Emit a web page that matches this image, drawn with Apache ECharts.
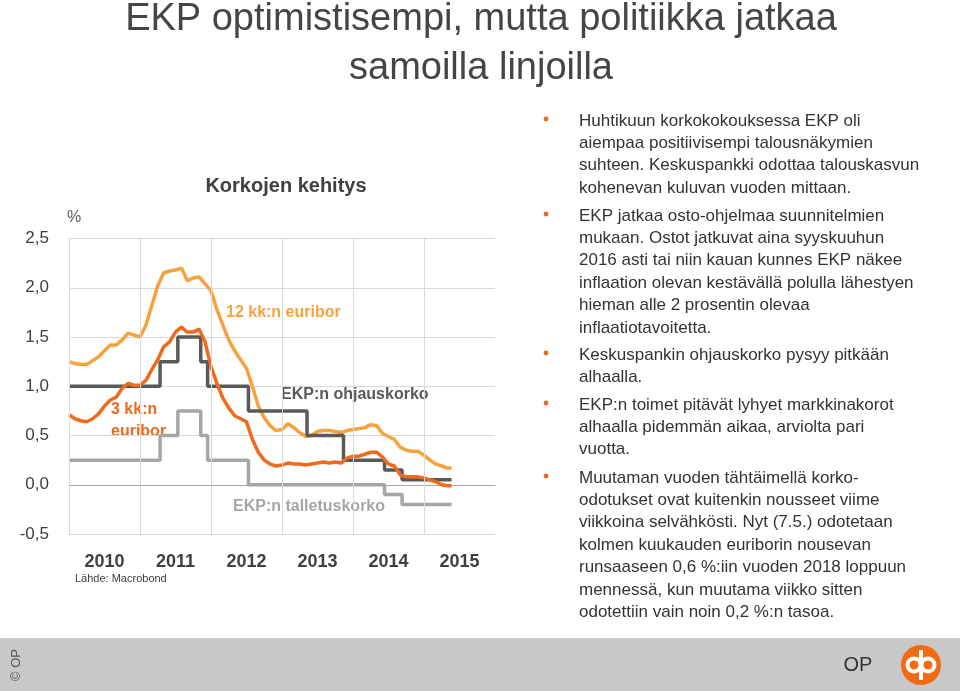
<!DOCTYPE html>
<html>
<head>
<meta charset="utf-8">
<title>EKP optimistisempi</title>
<script src="https://cdn.jsdelivr.net/npm/echarts@6/dist/echarts.min.js"></script>
<style>
  html, body { margin: 0; padding: 0; background: #fff; }
  #slide { width: 960px; height: 691px; }
</style>
</head>
<body>
<div id="slide"></div>
<script>
const FONT = '"Liberation Sans", Arial, sans-serif'

// vuodet x-akselilla
const yearLabels = ['2010', '2011', '2012', '2013', '2014', '2015']
const yearLines = [2010, 2011, 2012, 2013, 2014, 2015]

// euriborit kuukauden alusta, viimeinen piste = datan loppu
const euriborDates = [] // 2010-01 ... 2015-05 + loppupäivä
for (let i = 0; i < 65; i++) {
  const y = 2010 + Math.floor(i / 12)
  const m = (i % 12) + 1
  euriborDates.push(y + '-' + (m < 10 ? '0' + m : m) + '-01')
}
euriborDates.push('2015-05-21')

const euribor3m = [
  0.71, 0.67, 0.65, 0.64, 0.67, 0.72, 0.80, 0.86, 0.89, 0.98, 1.03, 1.01,
  1.01, 1.06, 1.17, 1.27, 1.40, 1.45, 1.55, 1.60, 1.55, 1.55, 1.58, 1.45,
  1.20, 1.03, 0.88, 0.78, 0.70, 0.67, 0.64, 0.46, 0.33, 0.25, 0.21, 0.19,
  0.20, 0.22, 0.21, 0.21, 0.20, 0.21, 0.22, 0.23, 0.22, 0.23, 0.22, 0.27,
  0.29, 0.29, 0.31, 0.33, 0.33, 0.28, 0.21, 0.19, 0.10, 0.08, 0.08, 0.08,
  0.07, 0.05, 0.03, 0.00, -0.01, -0.01
]

const euribor12m = [
  1.25, 1.23, 1.22, 1.22, 1.26, 1.30, 1.36, 1.42, 1.42, 1.47, 1.54, 1.52,
  1.50, 1.62, 1.82, 2.02, 2.15, 2.17, 2.18, 2.20, 2.07, 2.10, 2.11, 2.04,
  1.97, 1.78, 1.62, 1.47, 1.36, 1.27, 1.18, 1.00, 0.80, 0.68, 0.60, 0.55,
  0.56, 0.62, 0.58, 0.53, 0.49, 0.50, 0.54, 0.55, 0.55, 0.54, 0.53, 0.55,
  0.56, 0.57, 0.58, 0.61, 0.60, 0.52, 0.49, 0.46, 0.38, 0.35, 0.34, 0.34,
  0.30, 0.25, 0.21, 0.19, 0.17, 0.17
]

// EKP:n korkopäätökset
const ecbDates = ['2010-01-01', '2011-04-13', '2011-07-13', '2011-11-09', '2011-12-14',
  '2012-07-11', '2013-05-08', '2013-11-13', '2014-06-11', '2014-09-10', '2015-05-21']
const refiRate = [1.00, 1.25, 1.50, 1.25, 1.00, 0.75, 0.50, 0.25, 0.15, 0.05, 0.05]
const depositRate = [0.25, 0.50, 0.75, 0.50, 0.25, 0.00, 0.00, 0.00, -0.10, -0.20, -0.20]

function toYear(s) {
  const p = s.split('-').map(Number)
  return p[0] + (p[1] - 1) / 12 + (p[2] - 1) / 365
}

function pairs(dates, values) {
  return dates.map((d, i) => [toYear(d), values[i]])
}

// oikean puolen tekstit
const bullets = [
  { y: 121, lines: ['Huhtikuun korkokokouksessa EKP oli', 'aiempaa positiivisempi talousnäkymien',
    'suhteen. Keskuspankki odottaa talouskasvun', 'kohenevan kuluvan vuoden mittaan.'] },
  { y: 216, lines: ['EKP jatkaa osto-ohjelmaa suunnitelmien', 'mukaan. Ostot jatkuvat aina syyskuuhun',
    '2016 asti tai niin kauan kunnes EKP näkee', 'inflaation olevan kestävällä polulla lähestyen',
    'hieman alle 2 prosentin olevaa', 'inflaatiotavoitetta.'] },
  { y: 355, lines: ['Keskuspankin ohjauskorko pysyy pitkään', 'alhaalla.'] },
  { y: 405, lines: ['EKP:n toimet pitävät lyhyet markkinakorot', 'alhaalla pidemmän aikaa, arviolta pari', 'vuotta.'] },
  { y: 478, lines: ['Muutaman vuoden tähtäimellä korko-', 'odotukset ovat kuitenkin nousseet viime',
    'viikkoina selvähkösti. Nyt (7.5.) odotetaan', 'kolmen kuukauden euriborin nousevan',
    'runsaaseen 0,6 %:iin vuoden 2018 loppuun', 'mennessä, kun muutama viikko sitten',
    'odotettiin vain noin 0,2 %:n tasoa.'] }
]

const LINE_H = 22.4

function text(x, y, str, font, fill, align) {
  return {
    type: 'text',
    silent: true,
    style: { x: x, y: y, text: str, font: font, fill: fill, textAlign: align || 'left', textVerticalAlign: 'middle' }
  }
}

const graphics = [
  // otsikko
  text(481, 20, 'EKP optimistisempi, mutta politiikka jatkaa', '38px ' + FONT, '#454545', 'center'),
  text(481, 69, 'samoilla linjoilla', '38px ' + FONT, '#454545', 'center'),
  // kaavion otsikko ja selitteet
  text(286, 186, 'Korkojen kehitys', 'bold 20px ' + FONT, '#404040', 'center'),
  text(67, 218, '%', '16px ' + FONT, '#595959'),
  text(226, 313, '12 kk:n euribor', 'bold 16px ' + FONT, '#f6a23e'),
  text(281, 395, 'EKP:n ohjauskorko', 'bold 16px ' + FONT, '#595959'),
  text(111, 410, '3 kk:n', 'bold 16px ' + FONT, '#ee6a1c'),
  text(111, 432, 'euribor', 'bold 16px ' + FONT, '#ee6a1c'),
  text(233, 507, 'EKP:n talletuskorko', 'bold 16px ' + FONT, '#a6a6a6'),
  text(75, 579, 'Lähde: Macrobond', '11px ' + FONT, '#404040'),
  // alapalkki
  {
    type: 'rect',
    silent: true,
    shape: { x: 0, y: 638, width: 960, height: 53 },
    style: { fill: '#c8c8c8' }
  },
  {
    type: 'text',
    silent: true,
    x: 16,
    y: 665,
    rotation: Math.PI / 2,
    style: { x: 0, y: 0, text: '© OP', font: '13px ' + FONT, fill: '#555', textAlign: 'center', textVerticalAlign: 'middle' }
  },
  text(858, 665, 'OP', '20px ' + FONT, '#333', 'center'),
  {
    type: 'circle',
    silent: true,
    shape: { cx: 921, cy: 665, r: 20 },
    style: { fill: '#f26b10' }
  },
  {
    type: 'circle',
    silent: true,
    shape: { cx: 914, cy: 665, r: 6.5 },
    style: { fill: 'none', stroke: '#fff', lineWidth: 4 }
  },
  {
    type: 'circle',
    silent: true,
    shape: { cx: 928, cy: 665, r: 6.5 },
    style: { fill: 'none', stroke: '#fff', lineWidth: 4 }
  },
  {
    type: 'rect',
    silent: true,
    shape: { x: 919, y: 650, width: 4, height: 30 },
    style: { fill: '#fff' }
  }
]

bullets.forEach(b => {
  graphics.push({
    type: 'circle',
    silent: true,
    shape: { cx: 546, cy: b.y - 2, r: 2.4 },
    style: { fill: '#ee6a1c' }
  })
  graphics.push({
    type: 'text',
    silent: true,
    style: {
      x: 579,
      y: b.y - LINE_H / 2,
      text: b.lines.join('\n'),
      font: '17px ' + FONT,
      lineHeight: LINE_H,
      fill: '#333',
      textVerticalAlign: 'top'
    }
  })
})

const chart = echarts.init(document.getElementById('slide'), null, { renderer: 'canvas' })

chart.setOption({
  animation: false,
  backgroundColor: '#fff',
  textStyle: { fontFamily: FONT },
  grid: {
    show: false,
    left: 69,
    right: 465,
    top: 238.5,
    bottom: 157
  },
  xAxis: [
    {
      type: 'value',
      min: 2010,
      max: 2016,
      interval: 1,
      position: 'bottom',
      axisLine: { onZero: true, lineStyle: { color: '#a6a6a6', width: 1 } },
      axisTick: { show: false },
      axisLabel: { show: false },
      splitLine: { show: false }
    },
    {
      type: 'category',
      data: yearLabels,
      position: 'bottom',
      boundaryGap: true,
      axisLine: { show: false, onZero: false },
      axisTick: { show: false },
      splitLine: { show: false },
      axisLabel: { fontSize: 18, fontWeight: 'bold', color: '#404040', margin: 19 }
    }
  ],
  yAxis: {
    type: 'value',
    min: -0.5,
    max: 2.5,
    interval: 0.5,
    axisLine: { show: false },
    axisTick: { show: false },
    axisLabel: {
      fontSize: 17,
      color: '#404040',
      margin: 20,
      formatter: v => v.toFixed(1).replace('.', ',')
    },
    splitLine: { lineStyle: { color: '#d9d9d9', width: 1 } }
  },
  series: [
    {
      // pystyviivat vuosien rajoilla
      type: 'line',
      z: 1,
      data: [],
      markLine: {
        silent: true,
        symbol: 'none',
        label: { show: false },
        lineStyle: { color: '#d9d9d9', width: 1, type: 'solid' },
        data: yearLines.map(v => ({ xAxis: v }))
      }
    },
    {
      name: 'EKP:n talletuskorko',
      type: 'line',
      step: 'end',
      showSymbol: false,
      data: pairs(ecbDates, depositRate),
      lineStyle: { color: '#a6a6a6', width: 3.5 }
    },
    {
      name: '12 kk:n euribor',
      type: 'line',
      showSymbol: false,
      data: pairs(euriborDates, euribor12m),
      lineStyle: { color: '#f6a23e', width: 3.5 }
    },
    {
      name: 'EKP:n ohjauskorko',
      type: 'line',
      step: 'end',
      showSymbol: false,
      data: pairs(ecbDates, refiRate),
      lineStyle: { color: '#595959', width: 3.5 }
    },
    {
      name: '3 kk:n euribor',
      type: 'line',
      showSymbol: false,
      data: pairs(euriborDates, euribor3m),
      lineStyle: { color: '#ee6a1c', width: 3.5 }
    }
  ],
  graphic: graphics
})
</script>
</body>
</html>
